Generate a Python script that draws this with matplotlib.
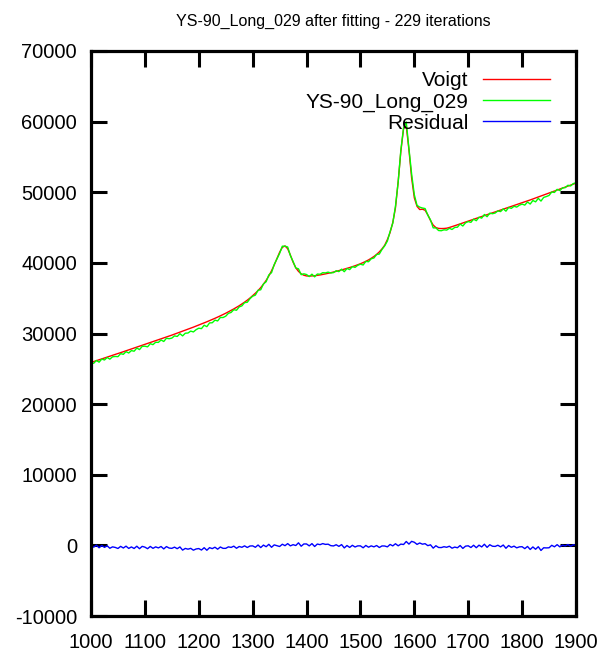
import numpy as np
import matplotlib
matplotlib.use("Agg")
import matplotlib.pyplot as plt

plt.rcParams['font.family'] = ['Liberation Sans', 'DejaVu Sans']
plt.rcParams['axes.unicode_minus'] = False

title = "YS-90_Long_029 after fitting - 229 iterations"
series_names = ["Voigt", "YS-90_Long_029", "Residual"]

# wavenumber grid (step 5)
wavenumber = np.arange(1000, 1905, 5)

voigt = [
    25900, 26030, 26150, 26280, 26400, 26530, 26660, 26780, 26910, 27040,
    27160, 27290, 27420, 27540, 27670, 27800, 27930, 28060, 28190, 28320,
    28450, 28580, 28710, 28840, 28970, 29100, 29240, 29370, 29500, 29640,
    29770, 29910, 30050, 30190, 30330, 30470, 30610, 30760, 30900, 31050,
    31200, 31350, 31500, 31660, 31820, 31980, 32150, 32320, 32500, 32680,
    32870, 33070, 33270, 33480, 33700, 33930, 34180, 34440, 34720, 35020,
    35350, 35700, 36080, 36500, 36980, 37520, 38150, 38880, 39700, 40600,
    41500, 42200, 42400, 42000, 41100, 40100, 39300, 38800, 38450, 38250,
    38150, 38130, 38150, 38180, 38230, 38290, 38360, 38440, 38520, 38610,
    38700, 38800, 38900, 39000, 39110, 39220, 39340, 39460, 39590, 39730,
    39880, 40040, 40220, 40420, 40650, 40900, 41200, 41550, 41980, 42500,
    43300, 44300, 45700, 47800, 51500, 55800, 59000, 59400, 56000, 52000,
    49200, 48000, 47550, 47600, 47450, 46800, 46000, 45350, 45000, 44880,
    44860, 44870, 44910, 45010, 45130, 45260, 45390, 45520, 45650, 45780,
    45910, 46040, 46170, 46300, 46430, 46560, 46690, 46820, 46950, 47080,
    47210, 47340, 47470, 47600, 47730, 47860, 47990, 48120, 48250, 48380,
    48510, 48640, 48770, 48910, 49050, 49190, 49330, 49470, 49610, 49750,
    49890, 50030, 50170, 50310, 50450, 50590, 50730, 50870, 51010, 51150,
    51290,
]

measured = [
    25860, 25780, 26180, 25940, 26380, 26250, 26600, 26370, 26700, 26750,
    26720, 27150, 27050, 27430, 27240, 27580, 27490, 27940, 27720, 28180,
    28200, 28110, 28560, 28420, 28760, 28740, 29080, 28870, 29330, 29260,
    29350, 29660, 29580, 29970, 29660, 30040, 30070, 30340, 30220, 30540,
    30750, 30690, 31170, 30970, 31500, 31520, 31890, 31780, 32270, 32260,
    32450, 32860, 32980, 33370, 33290, 33770, 33910, 34370, 34420, 34930,
    35280, 35430, 36130, 36190, 37020, 37330, 38300, 38610, 39770, 40560,
    41340, 42360, 42360, 42250, 41030, 40200, 39280, 39160, 38330, 38450,
    38350, 38060, 38400, 38020, 38420, 38390, 38610, 38580, 38690, 38570,
    38620, 38890, 38760, 39110, 38750, 39200, 39050, 39470, 39360, 39660,
    39810, 39700, 40210, 40160, 40580, 40690, 41180, 41250, 41900, 42410,
    43090, 44430, 45630, 48030, 51440, 55980, 59120, 59950, 56180, 52570,
    49640, 48140, 47890, 47770, 47690, 46760, 46080, 44960, 44950, 44580,
    44550, 44680, 44640, 44890, 44730, 45020, 45050, 45500, 45220, 45670,
    45850, 45740, 46190, 45970, 46460, 46340, 46850, 46540, 47040, 46960,
    47060, 47360, 47260, 47650, 47320, 47840, 47720, 48010, 47900, 48170,
    48320, 48180, 48620, 48330, 48830, 48640, 49140, 48750, 49270, 49390,
    49550, 50040, 49970, 50410, 50240, 50620, 50650, 50990, 50890, 51230,
    51340,
]

residual = [
    -40, -250, 30, -340, -20, -280, -60, -410, -210, -290,
    -440, -140, -370, -110, -430, -220, -440, -120, -470, -140,
    -250, -470, -150, -420, -210, -360, -160, -500, -170, -380,
    -420, -250, -470, -220, -670, -430, -540, -420, -680, -510,
    -450, -660, -330, -690, -320, -460, -260, -540, -230, -420,
    -420, -210, -290, -110, -410, -160, -270, -70, -300, -90,
    -70, -270, 50, -310, 40, -190, 150, -270, 70, -40,
    -160, 160, -40, 250, -70, 100, -20, 360, -120, 200,
    200, -70, 250, -160, 190, 100, 250, 140, 170, -40,
    -80, 90, -140, 110, -360, -20, -290, 10, -230, -70,
    -70, -340, -10, -260, -70, -210, -20, -300, -80, -90,
    -210, 130, -70, 230, -60, 180, 120, 550, 180, 570,
    440, 140, 340, 170, 240, -40, 80, -390, -50, -300,
    -310, -190, -270, -120, -400, -240, -340, -20, -430, -110,
    -60, -300, 20, -330, 30, -220, 160, -280, 90, -120,
    -150, 20, -210, 50, -410, -20, -270, -110, -350, -210,
    -190, -460, -150, -580, -220, -550, -190, -720, -340, -360,
    -340, 10, -200, 100, -210, 30, -80, 120, -120, 80,
    50,
]

x_ticks = [1000, 1100, 1200, 1300, 1400, 1500, 1600, 1700, 1800, 1900]
y_ticks = [-10000, 0, 10000, 20000, 30000, 40000, 50000, 60000, 70000]

fig = plt.figure(figsize=(6.08, 6.51), dpi=100)
ax = fig.add_axes([91 / 608, 35 / 651, 485 / 608, 565 / 651])

ax.plot(wavenumber, voigt, color="#ff0000", lw=1.0, label=series_names[0])
ax.plot(wavenumber, measured, color="#00ff00", lw=1.0, label=series_names[1])
ax.plot(wavenumber, residual, color="#0000ff", lw=1.0, label=series_names[2])

ax.set_xlim(1000, 1900)
ax.set_ylim(-10000, 70000)
ax.set_xticks(x_ticks)
ax.set_yticks(y_ticks)
ax.tick_params(axis="both", which="major", direction="in", length=11.5, width=2.2,
               top=True, right=True, labelsize=14.5, colors="black")
ax.tick_params(axis="x", pad=12)
ax.tick_params(axis="y", pad=10)
for s in ax.spines.values():
    s.set_linewidth(2.3)

ax.set_title(title, fontsize=11.5, pad=18)

leg = ax.legend(loc="upper right", bbox_to_anchor=(0.946, 0.964), frameon=False,
                markerfirst=False, fontsize=15, handlelength=3.2, handletextpad=0.7,
                labelspacing=0.1, borderpad=0, borderaxespad=0)

fig.savefig("out.png", dpi=100)
